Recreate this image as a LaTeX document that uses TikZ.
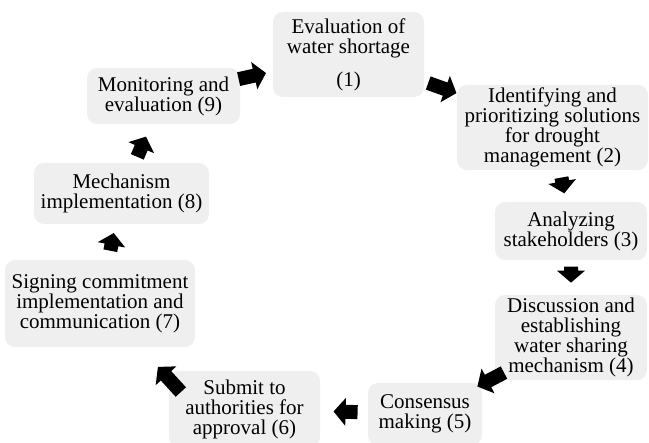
\documentclass[tikz,border=0pt]{standalone}
\usepackage{fontspec}
\setmainfont{Liberation Serif}
\usepackage{xcolor}
\usetikzlibrary{calc}
\usetikzlibrary{decorations.markings}
\definecolor{stagegray}{RGB}{239,239,239}
\def\flowhead{12pt}
\def\flowshaft{7pt}
\def\flowwing{14pt}

\tikzset{
	stage/.style={fill=stagegray, rounded corners=10pt, align=center, inner sep=0pt,
		font=\fontsize{21pt}{20pt}\selectfont},
	flow/.style 2 args={
		decoration={markings, mark=at position #1 with {
			\fill[black] (-#2,-\flowshaft) -- ({#2-\flowhead},-\flowshaft) -- ({#2-\flowhead},-\flowwing)
				-- (#2,0pt) -- ({#2-\flowhead},\flowwing) -- ({#2-\flowhead},\flowshaft) -- (-#2,\flowshaft) -- cycle;}},
		postaction={decorate}}
}

\begin{document}
\begin{tikzpicture}[x=1pt, y=-1pt]
		\useasboundingbox (0,0) rectangle (649,443);
		% stages of the cycle
		\node[stage, minimum width=151pt, minimum height=85pt] (s1) at (348.5,54.5) {Evaluation of\\water shortage\\[13pt](1)};
		\node[stage, minimum width=191pt, minimum height=85pt] (s2) at (552.5,127.5) {Identifying and\\prioritizing solutions\\for drought\\management (2)};
		\node[stage, minimum width=152pt, minimum height=58pt] (s3) at (571,231) {Analyzing\\stakeholders (3)};
		\node[stage, minimum width=152pt, minimum height=85pt] (s4) at (571,337.5) {Discussion and\\establishing\\water sharing\\mechanism (4)};
		\node[stage, minimum width=114pt, minimum height=62pt] (s5) at (425,414) {Consensus\\making (5)};
		\node[stage, minimum width=151pt, minimum height=76pt] (s6) at (244.5,409) {Submit to\\authorities for\\approval (6)};
		\node[stage, minimum width=190pt, minimum height=87pt] (s7) at (100,303.5) {Signing commitment\\implementation and\\communication (7)};
		\node[stage, minimum width=175pt, minimum height=61pt] (s8) at (121.5,193.5) {Mechanism\\implementation (8)};
		\node[stage, minimum width=153pt, minimum height=56pt] (s9) at (163.5,96) {Monitoring and\\evaluation (9)};
		% block arrows
		\path[flow={0.46}{15pt}] (s1.center) -- (s2.center);
		\path[flow={0.56}{8pt}] (s2.center) -- (s3.center);
		\path[flow={0.41}{8pt}] (s3.center) -- (s4.center);
		\path[flow={0.55}{15pt}] (s4.center) -- (s5.center);
		\path[flow={0.44}{12pt}] (s5.center) -- (s6.center);
		\path[flow={0.12}{17pt}] ([xshift=10pt,yshift=-19pt]s6.north west) -- (s7.center);
		\path[flow={0.56}{9pt}] (s7.center) -- (s8.center);
		\path[flow={0.48}{11pt}] (s8.center) -- (s9.center);
		\path[flow={0.48}{14pt}] (s9.center) -- (s1.center);
\end{tikzpicture}
\end{document}
